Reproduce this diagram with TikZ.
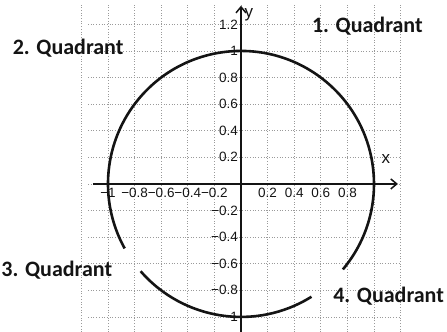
\documentclass[tikz,border=0pt]{standalone}
\usepackage{fontspec}
\setmainfont{Liberation Sans}
\newfontfamily\quadfont{Carlito}
\usetikzlibrary{arrows.meta}
\definecolor{gridgrey}{HTML}{9A9A9A}
\definecolor{inkblack}{HTML}{141414}
\tikzset{
  gridline/.style={gridgrey, dotted, line width=0.7pt},
  axisline/.style={inkblack, line width=1.5pt, -{Straight Barb[length=6pt, width=10pt]}},
  unitcircle/.style={inkblack, line width=2.6pt},
  ticklabel/.style={inkblack, font=\fontsize{13.5}{13.5}\selectfont, inner sep=1pt},
  axislabel/.style={inkblack, font=\fontsize{17}{17}\selectfont, inner sep=0pt},
  quadlabel/.style={inkblack, font=\quadfont\bfseries\fontsize{22}{22}\selectfont, inner sep=0pt},
}

\begin{document}
\begin{tikzpicture}[x=133pt, y=133pt]
\useasboundingbox (-1.812,-1.113) rectangle (1.549,1.383);
% grid
\foreach \i in {-6,...,6}
  \draw[gridline] (\i/5,-1.113) -- (\i/5,1.36);
\foreach \i in {-5,...,6}
  \draw[gridline] (-1.15,\i/5) -- (1.2,\i/5);
% circle, drawn with two gaps
\draw[unitcircle] (320:1) arc[start angle=320, end angle=569, radius=1];
\draw[unitcircle] (221:1) arc[start angle=221, end angle=302, radius=1];
% axes
\coordinate (xstart) at (-1.11,0);
\coordinate (xend) at (1.18,0);
\coordinate (ystart) at (0,-1.113);
\coordinate (yend) at (0,1.34);
\draw[axisline] (xstart) -- (xend);
\draw[axisline] (ystart) -- (yend);
\node[axislabel] (xlab) at (1.09,0.19) {x};
\node[axislabel] (ylab) at (0.06,1.27) {y};
% tick labels
\foreach \v/\t/\n in {-1/{−1}/m10, -0.8/{−0.8}/m8, -0.6/{−0.6}/m6, -0.4/{−0.4}/m4,
    -0.2/{−0.2}/m2, 0.2/{0.2}/p2, 0.4/{0.4}/p4, 0.6/{0.6}/p6, 0.8/{0.8}/p8}
  \node[ticklabel, anchor=north] (xt\n) at (\v,-0.025) {\t};
\foreach \v/\t/\n in {1.2/{1.2}/p12, 1/{1}/p10, 0.8/{0.8}/p8, 0.6/{0.6}/p6, 0.4/{0.4}/p4,
    0.2/{0.2}/p2, -0.2/{−0.2}/m2, -0.4/{−0.4}/m4, -0.6/{−0.6}/m6, -0.8/{−0.8}/m8, -1/{−1}/m10}
  \node[ticklabel, anchor=east] (yt\n) at (-0.015,\v) {\t};
% quadrant names
\node[quadlabel] (q1) at (0.95,1.19) {1. Quadrant};
\node[quadlabel] (q2) at (-1.30,1.02) {2. Quadrant};
\node[quadlabel] (q3) at (-1.385,-0.647) {3. Quadrant};
\node[quadlabel] (q4) at (1.11,-0.842) {4. Quadrant};
\end{tikzpicture}
\end{document}
